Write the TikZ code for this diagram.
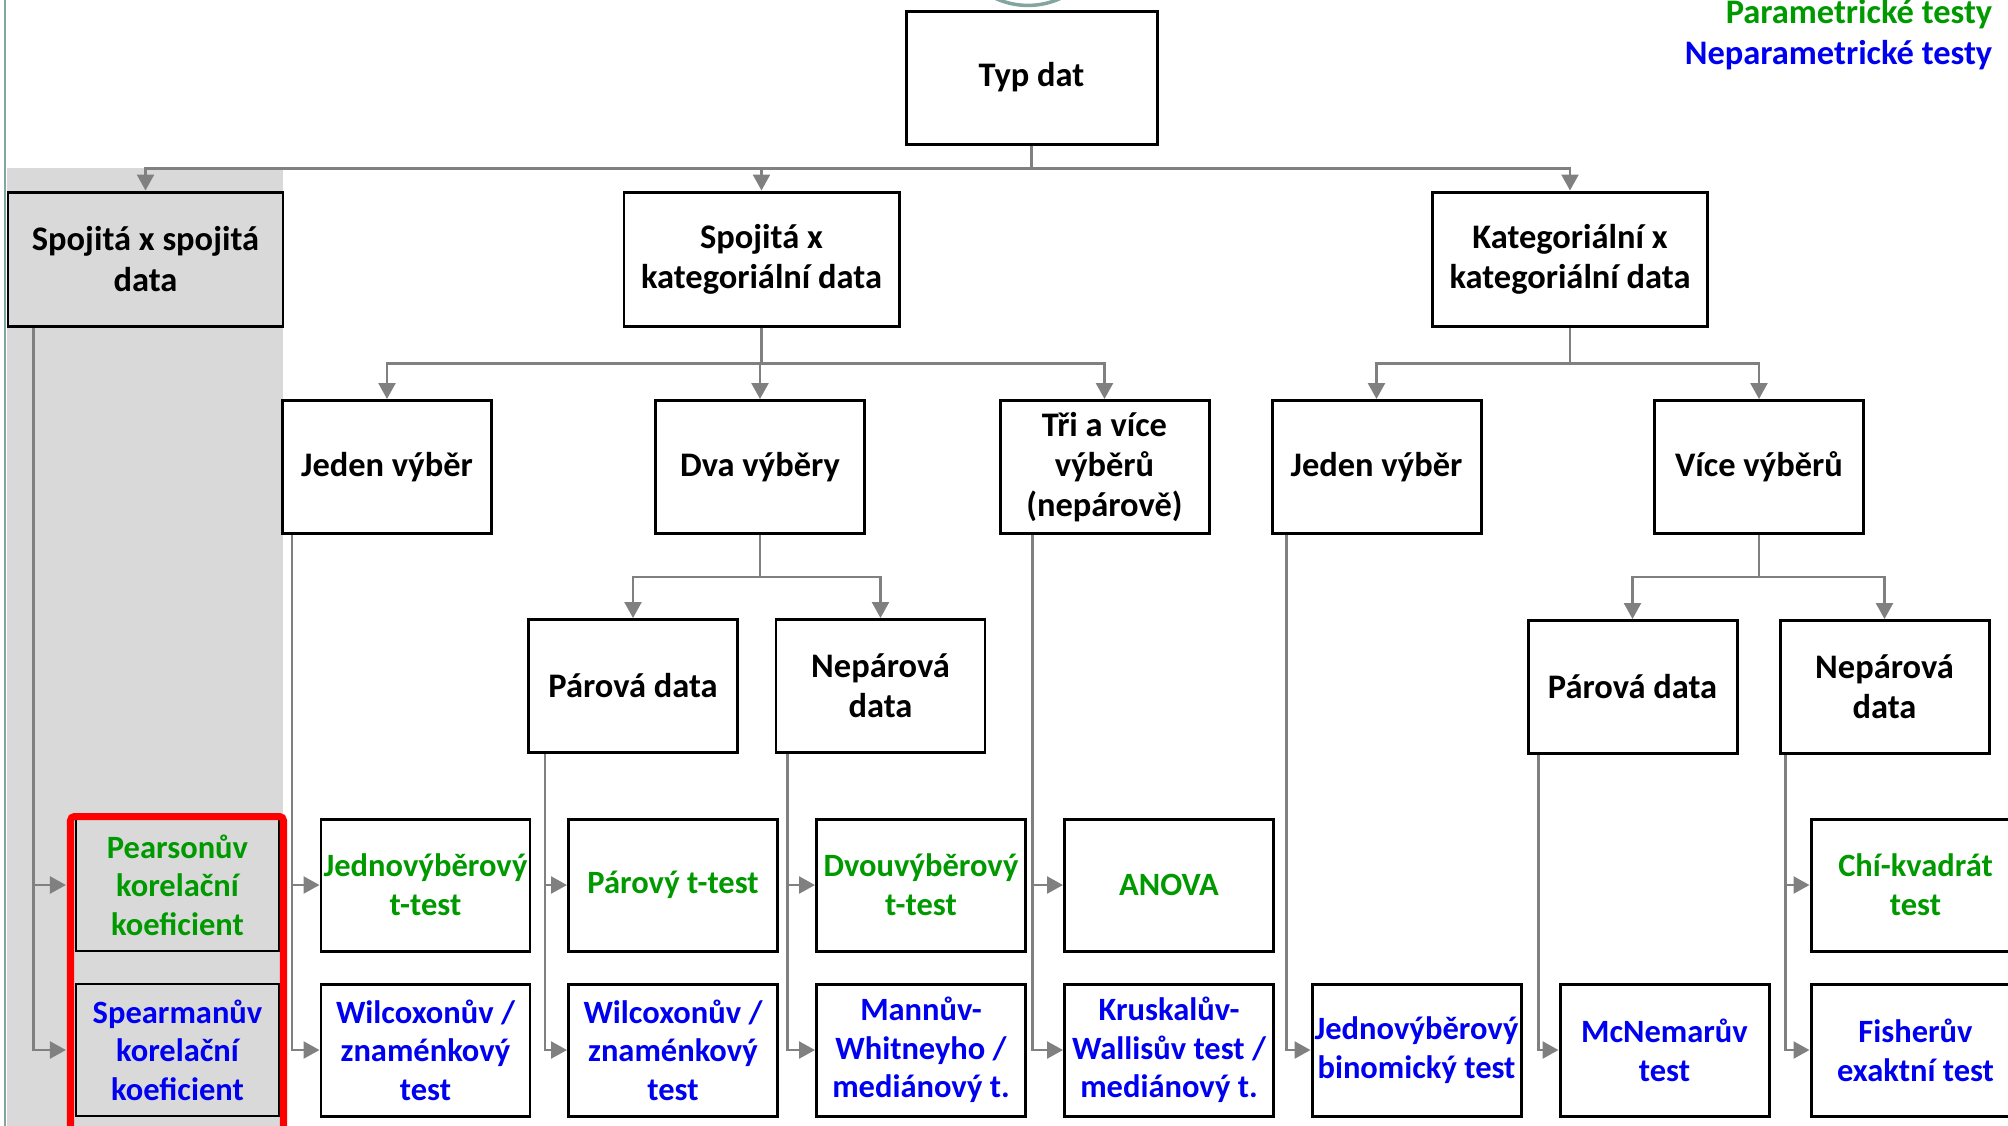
\documentclass[tikz,border=0pt]{standalone}
\usepackage{fontspec}
\setmainfont{Carlito}
\usepackage{xcolor}
\usepackage{tikz}
\usetikzlibrary{positioning}
\usetikzlibrary{arrows.meta}
\definecolor{paramGreen}{RGB}{0,153,0}
\definecolor{nonparamBlue}{RGB}{0,0,240}
\definecolor{panelGray}{RGB}{217,217,217}
\definecolor{edgeTeal}{RGB}{130,165,160}
\tikzset{%
  typeNode/.style={rectangle, draw=black, line width=0.85pt, inner sep=0pt, align=center, font=\bfseries\fontsize{9.8}{11.4}\selectfont},
  %
  dataNode/.style={typeNode, minimum width=2.75cm, minimum height=1.34cm},% first level
  sampleNode/.style={typeNode, minimum width=2.09cm, minimum height=1.33cm},% samples, pairing
  % -----
  % tests
  % -----
  testNode/.style={typeNode, minimum width=2.09cm, minimum height=1.32cm, font=\bfseries\fontsize{9.25}{11}\selectfont},
  paramTest/.style={testNode, text=paramGreen},
  nonparamTest/.style={testNode, text=nonparamBlue},
  corrTest/.style={minimum width=2.03cm, fill=panelGray, line width=0.6pt},
  %
  connector/.style={draw=gray, line width=0.7pt, -{Triangle[width=0.17cm,length=0.16cm]}},
  busline/.style={draw=gray, line width=0.7pt}}

\begin{document}
\begin{tikzpicture}[
        legend/.style={anchor=base east, inner sep=0pt, font=\bfseries\fontsize{9.8}{11.4}\selectfont},
    ]
        \useasboundingbox (0,0) rectangle (20.08,-11.25);
        \clip (0,0) rectangle (20.08,-11.25);

        %Background
        \fill[panelGray] (0.07,-1.68) rectangle (2.83,-11.3);
        \draw[edgeTeal, line width=0.6pt] (0.05,0.1) -- (0.05,-11.3);
        \draw[edgeTeal, line width=1pt] (10.28,0.726) circle (0.78);

        %Nodes
        \node[dataNode] (typ) at (10.315,-0.775) [minimum width=2.51cm, minimum height=1.33cm] {Typ dat};

        \node[dataNode, fill=panelGray] (spojSpoj) at (1.455,-2.59) {Spojitá x spojitá\\data};
        \node[dataNode] (spojKat) at (7.615,-2.59) {Spojitá x\\kategoriální data};
        \node[dataNode] (katKat) at (15.70,-2.59) {Kategoriální x\\kategoriální data};

        \node[sampleNode] (jedenA) at (3.87,-4.67) {Jeden výběr};
        \node[sampleNode] (dva) at (7.60,-4.67) {Dva výběry};
        \node[sampleNode] (tri) at (11.045,-4.67) {Tři a více\\výběrů\\(nepárově)};
        \node[sampleNode] (jedenB) at (13.765,-4.67) {Jeden výběr};
        \node[sampleNode] (vice) at (17.59,-4.67) {Více výběrů};

        \node[sampleNode] (parA) at (6.33,-6.86) {Párová data};
        \node[sampleNode] (neparA) at (8.805,-6.86) {Nepárová\\data};
        \node[sampleNode] (parB) at (16.325,-6.87) {Párová data};
        \node[sampleNode] (neparB) at (18.845,-6.87) {Nepárová\\data};

        \node[paramTest, corrTest] (pearson) at (1.775,-8.85) {Pearsonův\\korelační\\koeficient};
        \node[nonparamTest, corrTest] (spearman) at (1.775,-10.50) {Spearmanův\\korelační\\koeficient};
        \node[paramTest] (jednoT) at (4.255,-8.85) {Jednovýběrový\\t-test};
        \node[nonparamTest] (wilcoxA) at (4.255,-10.50) {Wilcoxonův /\\znaménkový\\test};
        \node[paramTest] (parT) at (6.73,-8.85) {Párový t-test};
        \node[nonparamTest] (wilcoxB) at (6.73,-10.50) {Wilcoxonův /\\znaménkový\\test};
        \node[paramTest] (dvouT) at (9.21,-8.85) {Dvouvýběrový\\t-test};
        \node[nonparamTest] (mann) at (9.21,-10.50) {Mannův-\\Whitneyho /\\mediánový t.};
        \node[paramTest] (anova) at (11.69,-8.85) {ANOVA};
        \node[nonparamTest] (kruskal) at (11.69,-10.50) {Kruskalův-\\Wallisův test /\\mediánový t.};
        \node[nonparamTest] (binom) at (14.165,-10.50) {Jednovýběrový\\binomický test};
        \node[nonparamTest] (mcnemar) at (16.645,-10.50) {McNemarův\\test};
        \node[paramTest] (chi) at (19.155,-8.85) {Chí-kvadrát\\test};
        \node[nonparamTest] (fisher) at (19.155,-10.50) {Fisherův\\exaktní test};

        \node[legend, text=paramGreen] (legPar) at (19.93,-0.235) {Parametrické testy};
        \node[legend, text=nonparamBlue] (legNepar) at (19.93,-0.645) {Neparametrické testy};

        %Lines
        \draw[connector] (typ.south) -- ++(0,-0.23) -| (spojSpoj.north);
        \draw[connector] (typ.south) -- ++(0,-0.23) -| (spojKat.north);
        \draw[connector] (typ.south) -- ++(0,-0.23) -| (katKat.north);

        \draw[connector] (spojKat.south) -- ++(0,-0.36) -| (jedenA.north);
        \draw[connector] (spojKat.south) -- ++(0,-0.36) -| (dva.north);
        \draw[connector] (spojKat.south) -- ++(0,-0.36) -| (tri.north);
        \draw[connector] (katKat.south) -- ++(0,-0.36) -| (jedenB.north);
        \draw[connector] (katKat.south) -- ++(0,-0.36) -| (vice.north);

        \draw[connector] (dva.south) -- ++(0,-0.42) -| (parA.north);
        \draw[connector] (dva.south) -- ++(0,-0.42) -| (neparA.north);
        \draw[connector] (vice.south) -- ++(0,-0.42) -| (parB.north);
        \draw[connector] (vice.south) -- ++(0,-0.42) -| (neparB.north);

        \draw[connector, shorten >=0.09cm] ([xshift=0.27cm]spojSpoj.south west) |- (pearson.west);
        \draw[connector, shorten >=0.09cm] ([xshift=0.27cm]spojSpoj.south west) |- (spearman.west);
        \draw[connector] ([xshift=0.11cm]jedenA.south west) |- (jednoT.west);
        \draw[connector] ([xshift=0.11cm]jedenA.south west) |- (wilcoxA.west);
        \draw[connector] ([xshift=0.18cm]parA.south west) |- (parT.west);
        \draw[connector] ([xshift=0.18cm]parA.south west) |- (wilcoxB.west);
        \draw[connector] ([xshift=0.13cm]neparA.south west) |- (dvouT.west);
        \draw[connector] ([xshift=0.13cm]neparA.south west) |- (mann.west);
        \draw[connector] ([xshift=0.34cm]tri.south west) |- (anova.west);
        \draw[connector] ([xshift=0.34cm]tri.south west) |- (kruskal.west);
        \draw[connector] ([xshift=0.16cm]jedenB.south west) |- (binom.west);
        \draw[connector] ([xshift=0.12cm]parB.south west) |- (mcnemar.west);
        \draw[connector] ([xshift=0.07cm]neparB.south west) |- (chi.west);
        \draw[connector] ([xshift=0.07cm]neparB.south west) |- (fisher.west);

        %Frame
        \draw[red, line width=2pt, rounded corners=0.04cm] (0.705,-11.5) |- (2.835,-8.165) -- (2.835,-11.5);
    \end{tikzpicture}
\end{document}
